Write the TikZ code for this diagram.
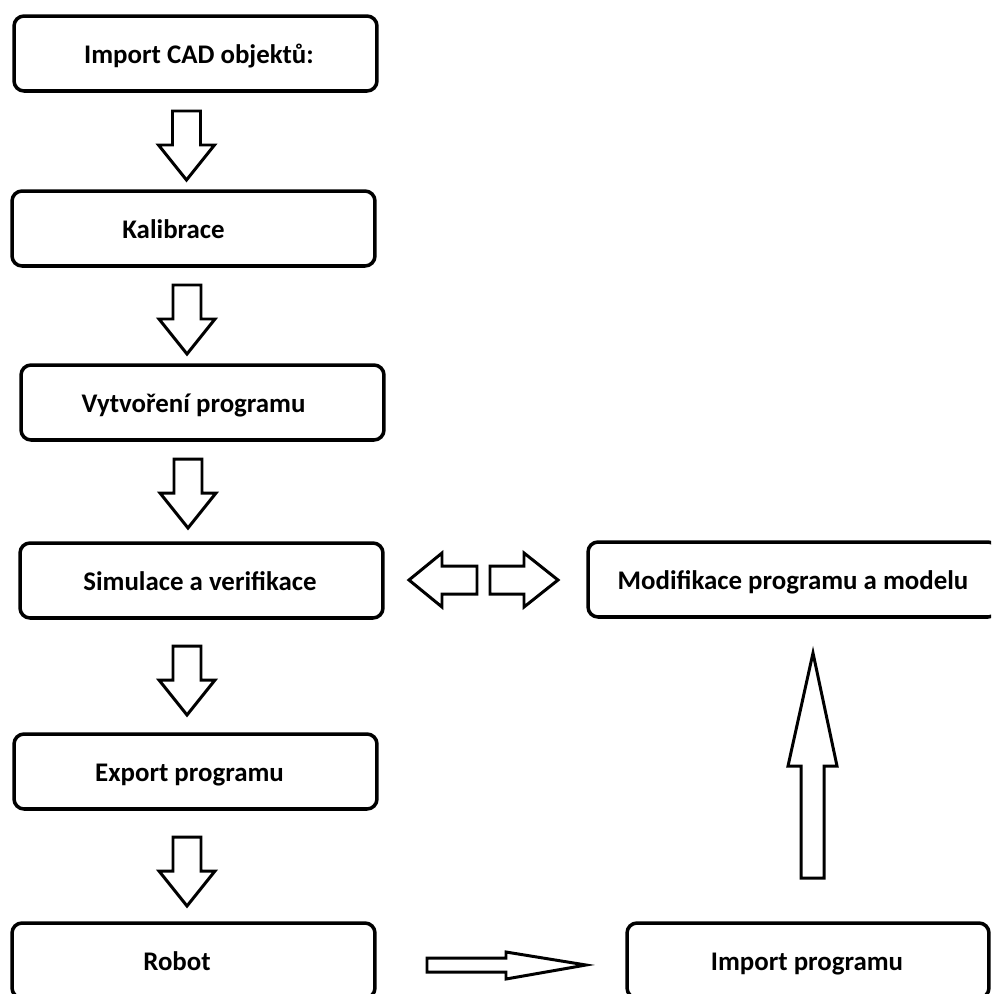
\documentclass[tikz,border=0pt]{standalone}
\usepackage{fontspec}
\setmainfont{Carlito}
\begin{document}
\begin{tikzpicture}[x=0.02cm, y=-0.02cm,
    box/.style={draw, line width=2pt, rounded corners=0.2cm, minimum width=7.26cm, minimum height=1.5cm, inner sep=0pt},
    lbl/.style={font=\bfseries\fontsize{15.3}{18}\selectfont, inner sep=0pt, text height=11.4pt, text depth=0pt},
    blockarrow/.style={draw, line width=1.7pt, fill=white, line join=miter},
    downarrow/.pic={\draw[blockarrow] (-14,0) -- (14,0) -- (14,34) -- (28,34) -- (0,69) -- (-28,34) -- (-14,34) -- cycle;}]
    \useasboundingbox (0,0) rectangle (991,994);
    \clip (0,0) rectangle (991,994);
    % left column
    \node[box, label={[lbl, xshift=0.07cm]center:{Import CAD objektů:}}] (cad) at (195.5,53.5) {};
    \node[box, label={[lbl, xshift=-0.4cm]center:{Kalibrace}}] (kalib) at (193.5,228.5) {};
    \node[box, label={[lbl, xshift=-0.18cm]center:{Vytvoření programu}}] (prog) at (202.5,402.5) {};
    \node[box, label={[lbl, xshift=-0.03cm]center:{Simulace a verifikace}}] (sim) at (201.5,580.5) {};
    \node[box, label={[lbl, xshift=-0.12cm]center:{Export programu}}] (export) at (195.5,771.5) {};
    \node[box, label={[lbl, xshift=-0.33cm]center:{Robot}}] (robot) at (193.5,960.5) {};
    % right column
    \node[box, minimum width=8.2cm, label={[lbl]center:{Modifikace programu a modelu}}] (modif) at (793,579.5) {};
    \node[box, minimum width=7.24cm, label={[lbl, xshift=-0.02cm]center:{Import programu}}] (import) at (808,960.5) {};
    % block arrows
    \pic at (186.5,111) {downarrow};
    \pic at (187,285) {downarrow};
    \pic at (188,459) {downarrow};
    \pic at (187,646) {downarrow};
    \pic at (187,837) {downarrow};
    \draw[blockarrow] (409,580) -- (442,553) -- (442,566) -- (477,566) -- (477,594) -- (442,594) -- (442,607) -- cycle;
    \draw[blockarrow] (490,566) -- (524,566) -- (524,553) -- (558,580) -- (524,607) -- (524,594) -- (490,594) -- cycle;
    \draw[blockarrow] (801,878) -- (801,766) -- (788,766) -- (813,653) -- (837,766) -- (824,766) -- (824,878) -- cycle;
    \draw[blockarrow] (427,958) -- (506,958) -- (506,952) -- (586,965) -- (506,979) -- (506,972) -- (427,972) -- cycle;
\end{tikzpicture}
\end{document}
